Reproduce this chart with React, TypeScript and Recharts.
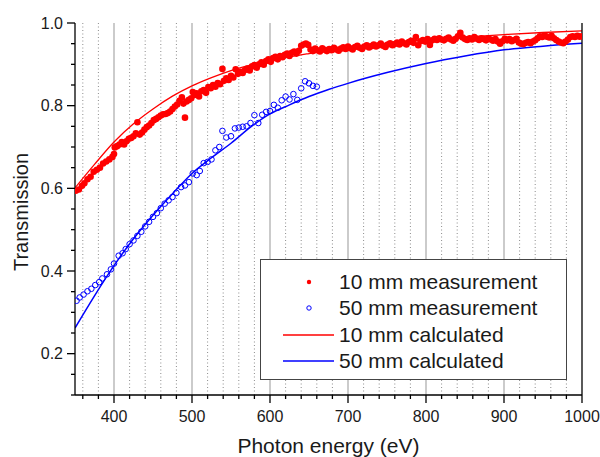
import React from 'react';
import { ComposedChart, Scatter, Line, XAxis, YAxis, ReferenceLine } from 'recharts';

const FONT = '"Liberation Sans", Arial, sans-serif';

// [photon energy (eV), transmission]
const meas10mm: [number, number][] = [
  [351, 0.594], [355, 0.597], [359, 0.606], [362, 0.612], [366, 0.622], [370, 0.628], [374, 0.640], [378, 0.645],
  [382, 0.650], [386, 0.660], [390, 0.665], [394, 0.670], [398, 0.676], [400, 0.683], [401, 0.699], [404, 0.702],
  [407, 0.706], [410, 0.712], [413, 0.706], [416, 0.714], [419, 0.720], [422, 0.722], [425, 0.726], [428, 0.733],
  [430, 0.760], [433, 0.730], [436, 0.735], [439, 0.742], [442, 0.748], [445, 0.752], [448, 0.758], [451, 0.765],
  [454, 0.768], [457, 0.772], [460, 0.776], [463, 0.779], [466, 0.780], [469, 0.782], [472, 0.786], [475, 0.792],
  [478, 0.798], [481, 0.803], [484, 0.812], [487, 0.820], [489, 0.805], [491, 0.771], [493, 0.810], [496, 0.814],
  [499, 0.818], [501, 0.833], [503, 0.826], [506, 0.830], [509, 0.822], [512, 0.835], [515, 0.838], [518, 0.831],
  [521, 0.845], [524, 0.842], [527, 0.850], [530, 0.846], [533, 0.855], [536, 0.852], [539, 0.889], [541, 0.860],
  [544, 0.866], [547, 0.862], [550, 0.872], [553, 0.868], [556, 0.888], [559, 0.877], [562, 0.882], [565, 0.879],
  [568, 0.886], [571, 0.890], [574, 0.885], [577, 0.895], [580, 0.898], [583, 0.892], [586, 0.900], [589, 0.905],
  [592, 0.899], [595, 0.908], [598, 0.912], [601, 0.906], [604, 0.915], [607, 0.918], [610, 0.912], [613, 0.920],
  [616, 0.917], [619, 0.923], [622, 0.926], [625, 0.920], [628, 0.928], [631, 0.931], [634, 0.926], [637, 0.933],
  [640, 0.945], [643, 0.948], [646, 0.950], [649, 0.947], [652, 0.936], [655, 0.932], [658, 0.938], [661, 0.934],
  [664, 0.931], [667, 0.939], [670, 0.935], [673, 0.932], [676, 0.937], [679, 0.934], [682, 0.940], [685, 0.936],
  [688, 0.933], [691, 0.938], [694, 0.941], [697, 0.937], [700, 0.943], [703, 0.939], [706, 0.936], [709, 0.942],
  [712, 0.945], [715, 0.940], [718, 0.937], [721, 0.943], [724, 0.946], [727, 0.941], [730, 0.944], [733, 0.948],
  [736, 0.943], [739, 0.946], [742, 0.950], [745, 0.945], [748, 0.942], [751, 0.948], [754, 0.951], [757, 0.946],
  [760, 0.949], [763, 0.953], [766, 0.948], [769, 0.955], [772, 0.951], [775, 0.948], [778, 0.954], [781, 0.957],
  [784, 0.952], [787, 0.966], [790, 0.946], [793, 0.956], [796, 0.959], [799, 0.955], [802, 0.961], [805, 0.947],
  [808, 0.958], [811, 0.962], [814, 0.959], [817, 0.963], [820, 0.960], [823, 0.958], [826, 0.962], [829, 0.965],
  [832, 0.960], [835, 0.957], [838, 0.962], [841, 0.968], [844, 0.976], [847, 0.965], [850, 0.961], [853, 0.959],
  [856, 0.963], [859, 0.960], [862, 0.966], [865, 0.962], [868, 0.959], [871, 0.963], [874, 0.961], [877, 0.958],
  [880, 0.963], [883, 0.960], [886, 0.957], [889, 0.961], [892, 0.955], [895, 0.950], [898, 0.956], [901, 0.962],
  [904, 0.958], [907, 0.961], [910, 0.956], [913, 0.959], [916, 0.962], [919, 0.953], [922, 0.950], [925, 0.949],
  [928, 0.952], [931, 0.954], [934, 0.951], [937, 0.955], [940, 0.958], [943, 0.963], [946, 0.968], [949, 0.966],
  [952, 0.970], [955, 0.967], [958, 0.965], [961, 0.969], [964, 0.963], [967, 0.959], [970, 0.955], [973, 0.953],
  [976, 0.951], [979, 0.955], [982, 0.960], [985, 0.966], [988, 0.968], [991, 0.966], [994, 0.969], [997, 0.967],
  [1000, 0.968],
];

const meas50mm: [number, number][] = [
  [352, 0.328], [356, 0.336], [361, 0.343], [366, 0.351], [371, 0.357], [376, 0.366], [381, 0.373], [385, 0.382],
  [391, 0.392], [396, 0.404], [400, 0.418], [406, 0.437], [411, 0.443], [415, 0.453], [420, 0.465], [425, 0.474],
  [430, 0.485], [435, 0.495], [440, 0.508], [445, 0.519], [450, 0.531], [455, 0.540], [460, 0.552], [465, 0.563],
  [470, 0.571], [475, 0.579], [480, 0.589], [486, 0.603], [491, 0.607], [496, 0.615], [501, 0.636], [506, 0.632],
  [510, 0.642], [515, 0.661], [520, 0.664], [525, 0.670], [530, 0.692], [535, 0.700], [539, 0.739], [544, 0.723],
  [550, 0.726], [555, 0.745], [560, 0.747], [565, 0.749], [570, 0.750], [575, 0.758], [580, 0.777], [585, 0.758],
  [590, 0.778], [595, 0.785], [600, 0.787], [605, 0.802], [610, 0.795], [615, 0.813], [620, 0.822], [625, 0.815],
  [630, 0.828], [635, 0.814], [640, 0.842], [645, 0.859], [650, 0.854], [655, 0.848], [660, 0.846],
];

const calc10mm: [number, number][] = [
  [350, 0.601], [375, 0.658], [400, 0.712], [425, 0.756], [450, 0.792], [475, 0.823], [500, 0.848], [525, 0.868],
  [550, 0.885], [575, 0.898], [600, 0.909], [650, 0.926], [700, 0.940], [750, 0.951], [800, 0.959], [850, 0.966],
  [900, 0.972], [950, 0.977], [1000, 0.981],
];

const calc50mm: [number, number][] = [
  [350, 0.262], [375, 0.340], [400, 0.413], [425, 0.478], [450, 0.535], [475, 0.587], [500, 0.636], [525, 0.674],
  [550, 0.709], [575, 0.748], [600, 0.780], [625, 0.802], [650, 0.822], [675, 0.839], [700, 0.854], [750, 0.880],
  [800, 0.902], [850, 0.920], [900, 0.935], [950, 0.944], [1000, 0.951],
];

const xTicks = [360, 380, 400, 420, 440, 460, 480, 500, 520, 540, 560, 580, 600, 620, 640, 660, 680, 700, 720, 740,
  760, 780, 800, 820, 840, 860, 880, 900, 920, 940, 960, 980, 1000];
const xMajorGrid = [400, 500, 600, 700, 800, 900];
const yTicks = [0.1, 0.15, 0.2, 0.25, 0.3, 0.35, 0.4, 0.45, 0.5, 0.55, 0.6, 0.65, 0.7, 0.75, 0.8, 0.85, 0.9, 0.95, 1.0];

const legendItems = [
  { label: '10 mm measurement', kind: 'dot', color: '#ff0000' },
  { label: '50 mm measurement', kind: 'ring', color: '#0000ff' },
  { label: '10 mm calculated', kind: 'line', color: '#ff0000' },
  { label: '50 mm calculated', kind: 'line', color: '#0000ff' },
];

const toPoints = (arr: [number, number][]) => arr.map(([x, y]) => ({ x, y }));

const XTick = ({ x, y, payload }: any) => {
  const v = payload.value;
  const major = v % 100 === 0;
  return (
    <g>
      <line x1={x} x2={x} y1={y} y2={y + (major ? 8 : 4)} stroke="#000" strokeWidth={1.3} />
      {major && (
        <text x={x} y={y + 27} textAnchor="middle" fontSize={16} fontFamily={FONT} fill="#1a1a1a">{v}</text>
      )}
    </g>
  );
};

const YTick = ({ x, y, payload }: any) => {
  const v = payload.value;
  const major = Math.abs(v * 5 - Math.round(v * 5)) < 1e-6 && v > 0.15;
  return (
    <g>
      <line x1={x} x2={x - (major ? 8 : 4)} y1={y} y2={y} stroke="#000" strokeWidth={1.3} />
      {major && (
        <text x={x - 12} y={y} dy="0.36em" textAnchor="end" fontSize={16} fontFamily={FONT} fill="#1a1a1a">
          {v.toFixed(1)}
        </text>
      )}
    </g>
  );
};

const RightTick = ({ x, y }: any) => (
  <line x1={x} x2={x - 5} y1={y} y2={y} stroke="#000" strokeWidth={1.3} />
);

const Dot = (p: any) => <circle cx={p.cx} cy={p.cy} r={3.3} fill="#ff0000" />;
const Ring = (p: any) => <circle cx={p.cx} cy={p.cy} r={2.8} fill="none" stroke="#0000ff" strokeWidth={1} />;

const YLabel = ({ viewBox }: any) => {
  const cx = (viewBox?.x ?? 0) + 21;
  const cy = (viewBox?.y ?? 23) + (viewBox?.height ?? 372) / 2 + 3;
  return (
    <text x={cx} y={cy} transform={`rotate(-90 ${cx} ${cy})`} textAnchor="middle" dy="0.36em"
      fontSize={20} fontFamily={FONT} fill="#1a1a1a">Transmission</text>
  );
};

const XLabel = ({ viewBox }: any) => {
  const cx = (viewBox?.x ?? 75) + (viewBox?.width ?? 507) / 2;
  const cy = (viewBox?.y ?? 395) + 58;
  return (
    <text x={cx} y={cy} textAnchor="middle" fontSize={21} fontFamily={FONT} fill="#1a1a1a">Photon energy (eV)</text>
  );
};

export default function App() {
  return (
    <div style={{ position: 'absolute', left: 0, top: 0, width: 600, height: 457, background: '#fff' }}>
      <ComposedChart width={600} height={457} margin={{ top: 23, right: 0, bottom: 0, left: 0 }}>
        <XAxis type="number" dataKey="x" domain={[350, 1000]} ticks={xTicks} interval={0} height={62}
          allowDataOverflow tickSize={0} tickMargin={0} tickLine={false} tick={<XTick />}
          axisLine={{ stroke: '#000', strokeWidth: 1.3 }} label={<XLabel />} />
        <XAxis xAxisId="top" orientation="top" type="number" dataKey="x" domain={[350, 1000]} height={0}
          tick={false} tickLine={false} axisLine={{ stroke: '#000', strokeWidth: 1.3 }} />
        <YAxis type="number" dataKey="y" domain={[0.1, 1.0]} ticks={yTicks} interval={0} width={75}
          allowDataOverflow tickSize={0} tickMargin={0} tickLine={false} tick={<YTick />}
          axisLine={{ stroke: '#000', strokeWidth: 1.3 }} label={<YLabel />} />
        <YAxis yAxisId="right" orientation="right" type="number" domain={[0.1, 1.0]} ticks={yTicks} interval={0}
          width={18} tickSize={0} tickMargin={0} tickLine={false} tick={<RightTick />}
          axisLine={{ stroke: '#000', strokeWidth: 1.3 }} />
        {xTicks.filter((v) => v % 100 !== 0).map((v) => (
          <ReferenceLine key={`m${v}`} x={v} stroke="#8c8c8c" strokeWidth={1} strokeDasharray="1 2.5" />
        ))}
        {xMajorGrid.map((v) => (
          <ReferenceLine key={`M${v}`} x={v} stroke="#a8a8a8" strokeWidth={1.2} />
        ))}
        <Line data={toPoints(calc10mm)} dataKey="y" type="monotone" stroke="#ff0000" strokeWidth={1.3}
          dot={false} activeDot={false} isAnimationActive={false} />
        <Line data={toPoints(calc50mm)} dataKey="y" type="monotone" stroke="#0000ff" strokeWidth={1.5}
          dot={false} activeDot={false} isAnimationActive={false} />
        <Scatter data={toPoints(meas10mm)} shape={Dot} isAnimationActive={false} />
        <Scatter data={toPoints(meas50mm)} shape={Ring} isAnimationActive={false} />
      </ComposedChart>

      <div style={{ position: 'absolute', left: 260, top: 259, width: 307, height: 121, boxSizing: 'border-box',
        border: '1px solid #444', background: '#fff', fontFamily: FONT, fontSize: 21, color: '#1a1a1a' }}>
        {legendItems.map((item, i) => (
          <div key={item.label} style={{ position: 'absolute', left: 0, top: 9 + i * 26.3, height: 26,
            display: 'flex', alignItems: 'center', whiteSpace: 'nowrap' }}>
            <svg width={78} height={26} style={{ display: 'block' }}>
              {item.kind === 'dot' && <circle cx={48} cy={13} r={2.2} fill={item.color} />}
              {item.kind === 'ring' && <circle cx={48} cy={13} r={2.2} fill="none" stroke={item.color} strokeWidth={1} />}
              {item.kind === 'line' && <line x1={22} x2={73} y1={13} y2={13} stroke={item.color} strokeWidth={1.3} />}
            </svg>
            <span style={{ lineHeight: '26px' }}>{item.label}</span>
          </div>
        ))}
      </div>
    </div>
  );
}
